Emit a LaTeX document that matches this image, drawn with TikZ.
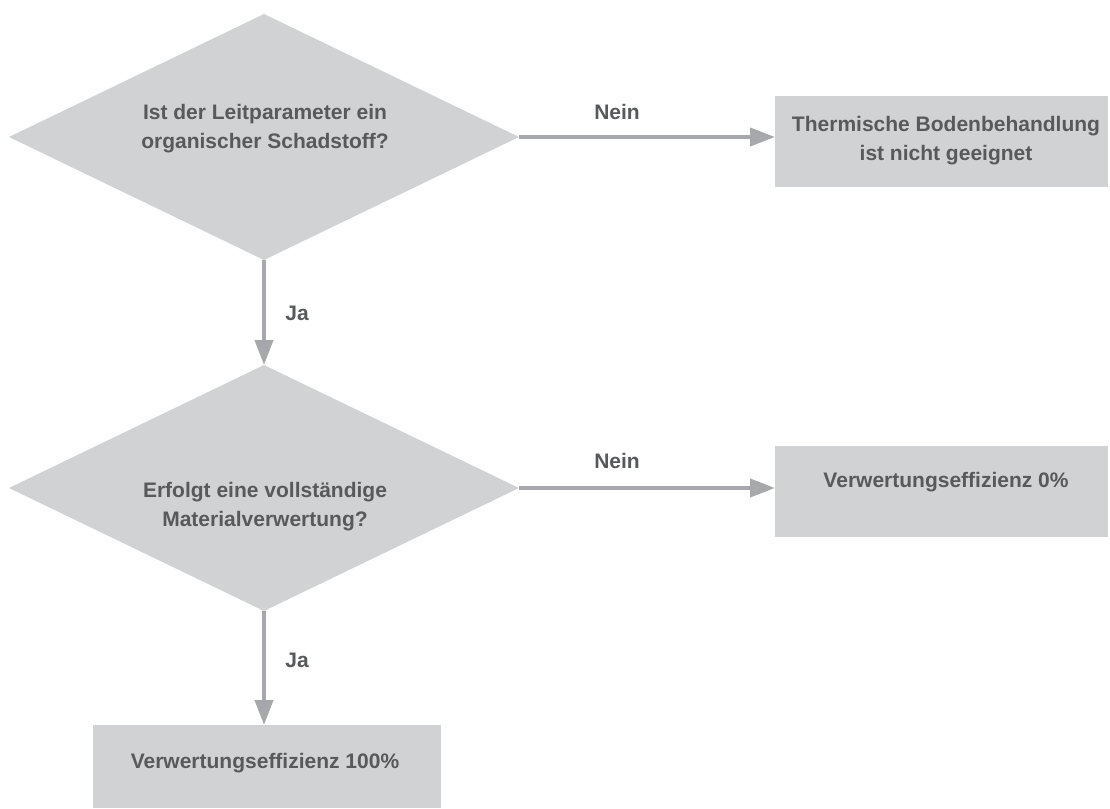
\documentclass[tikz,border=0pt]{standalone}
\usepackage{fontspec}
\setmainfont{Liberation Sans}
\usetikzlibrary{shapes.geometric,arrows.meta}
\definecolor{boxgray}{HTML}{D1D2D4}
\definecolor{arrgray}{HTML}{A7A8AC}
\definecolor{txtgray}{HTML}{58595B}

\begin{document}
\begin{tikzpicture}[x=0.75pt,y=0.75pt,yscale=-1,xscale=1,
    raute/.style={diamond,fill=boxgray,inner sep=0pt,outer sep=0pt,minimum width=382.5pt,minimum height=184.5pt},
    kasten/.style={rectangle,fill=boxgray,inner sep=0pt,outer sep=0pt,minimum width=249.75pt,minimum height=68.25pt},
    txt/.style={inner sep=0pt,align=center,text=txtgray,font=\bfseries\fontsize{15.75}{21.75}\selectfont},
    pfeil/.style={draw=arrgray,line width=3pt,-{Triangle[length=18.75pt,width=13.5pt]}}]
                \useasboundingbox (0,0) rectangle (1110,809);
                % Formen
                \draw (264,137) node (frage1) [raute] {};
                \draw (264,488) node (frage2) [raute] {};
                \draw (941.5,141.5) node (nichtgeeignet) [kasten] {};
                \draw (941.5,491.5) node (eff0) [kasten] {};
                \draw (267,766.5) node (eff100) [kasten,minimum width=261pt,minimum height=62.25pt] {};
                % Pfeile
                \draw [pfeil] (frage1.east) -- (frage1.east -| nichtgeeignet.west);
                \draw [pfeil] (frage1.south) -- (frage2.north);
                \draw [pfeil] (frage2.east) -- (frage2.east -| eff0.west);
                \draw [pfeil] (frage2.south) -- (frage2.south |- eff100.north);
                % Texte
                \draw (265,128.5) node (frage1txt) [txt] {Ist der Leitparameter ein\\organischer Schadstoff?};
                \draw (265,507) node (frage2txt) [txt] {Erfolgt eine vollständige\\Materialverwertung?};
                \draw (946,140.5) node (nichtgeeignettxt) [txt] {Thermische Bodenbehandlung\\ist nicht geeignet};
                \draw (946,482) node (eff0txt) [txt] {Verwertungseffizienz 0\%};
                \draw (265,763) node (eff100txt) [txt] {Verwertungseffizienz 100\%};
                \draw (617,112) node (nein1) [txt] {Nein};
                \draw (617,461) node (nein2) [txt] {Nein};
                \draw (297,313) node (ja1) [txt] {Ja};
                \draw (297,660) node (ja2) [txt] {Ja};
\end{tikzpicture}
\end{document}
